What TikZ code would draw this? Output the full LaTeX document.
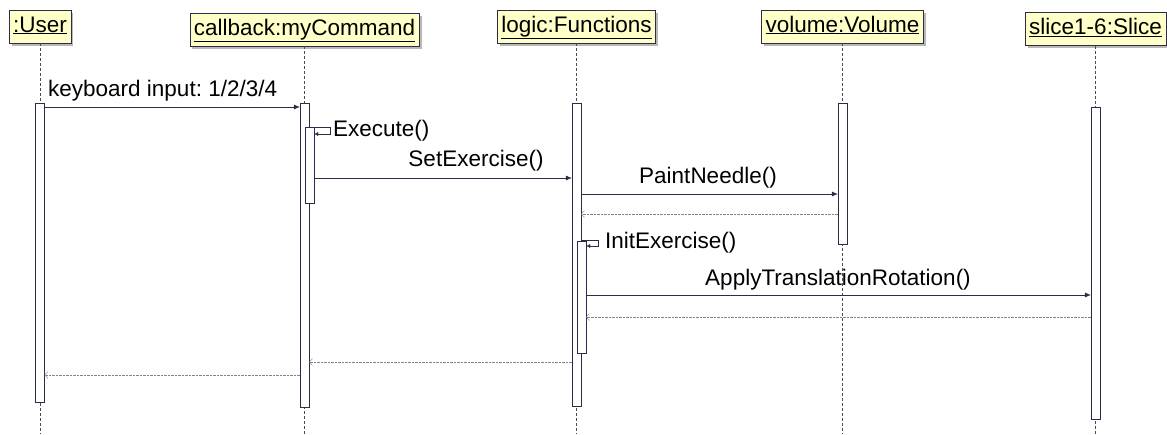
\documentclass[tikz,border=0pt]{standalone}
\usepackage{fontspec}
\setmainfont{Liberation Sans}
\usetikzlibrary{arrows.meta,shadows}
\definecolor{objfill}{RGB}{255,255,200}
\definecolor{umlline}{RGB}{44,44,70}
\definecolor{retline}{RGB}{130,130,140}
\frenchspacing
\begin{document}
\begin{tikzpicture}[
        x=1pt, y=-1pt,
        font=\fontsize{22.5}{26}\selectfont,
        % 对象框（带阴影）
        obj/.style={draw=umlline, fill=objfill, inner xsep=4pt, inner ysep=0pt,
            text height=17pt, text depth=6pt, minimum height=33pt,
            drop shadow={shadow xshift=2.5pt, shadow yshift=-2.5pt, fill=gray!55, opacity=1}},
        life/.style={draw=gray!60!black, dash pattern=on 3pt off 2pt},
        act/.style={draw=umlline, fill=white, minimum width=9pt, inner sep=0pt, anchor=north},
        msg/.style={draw=umlline, -{Latex[length=6pt,width=5pt]}},
        ret/.style={draw=retline, densely dotted, -{Straight Barb[length=3pt,width=7pt]}},
        lbl/.style={inner sep=1pt, text=black},
    ]

    \useasboundingbox (0,0) rectangle (1167,434);

    % 生命线横坐标
    \def\xU{40}
    \def\xC{304.5}
    \def\xF{576.5}
    \def\xV{842.5}
    \def\xS{1095.5}

    % ---- 对象 ----
    \node[obj] (user) at (\xU,26.5) {\underline{:User}};
    \node[obj] (cmd) at (\xC,29.5) {\underline{callback:myCommand}};
    \node[obj] (logic) at (\xF,26.5) {\underline{logic:Functions}};
    \node[obj] (vol) at (\xV,26.5) {\underline{volume:Volume}};
    \node[obj] (slice) at (\xS,29) {\underline{slice1-6:Slice}};

    % ---- 生命线 ----
    \draw[life] (user.south) -- (\xU,434);
    \draw[life] (cmd.south) -- (\xC,434);
    \draw[life] (logic.south) -- (\xF,434);
    \draw[life] (vol.south) -- (\xV,434);
    \draw[life] (slice.south) -- (\xS,434);

    % ---- 激活框 ----
    \node[act, minimum height=299pt] (aU) at (\xU,103) {};
    \node[act, minimum height=304pt] (aC) at (\xC,103) {};
    \node[act, minimum height=76pt] (aC2) at (\xC+5,127) {};
    \node[act, minimum height=303pt] (aF) at (\xF,103) {};
    \node[act, minimum height=112pt] (aF2) at (\xF+5,241) {};
    \node[act, minimum height=141pt] (aV) at (\xV,103) {};
    \node[act, minimum height=312pt] (aS) at (\xS,107) {};

    % ---- 消息 ----
    \draw[msg] (aU.east |- 0,107) -- (aC.west |- 0,107);
    \node[lbl, anchor=base west] (kb) at (47,96) {keyboard input: 1/2/3/4};

    \coordinate (ex) at (330,127);
    \draw[draw=umlline, -{Latex[length=4pt,width=4pt]}] (aC.east |- ex) -- (ex) -- ++(0,7) -- (aC2.east |- 0,134);
    \node[lbl, anchor=west] (exl) at (332,131) {Execute()};

    \draw[msg] (aC2.east |- 0,178) -- (aF.west |- 0,178);
    \node[lbl] (set) at (476,161) {SetExercise()};

    \draw[msg] (aF.east |- 0,194) -- (aV.west |- 0,194);
    \node[lbl] (pn) at (708,178) {PaintNeedle()};
    \draw[ret] (aV.west |- 0,214) -- (aF.east |- 0,214);

    \coordinate (ie) at (598,240);
    \draw[draw=umlline, -{Latex[length=4pt,width=4pt]}] (aF.east |- ie) -- (ie) -- ++(0,6) -- (aF2.east |- 0,246);
    \node[lbl, anchor=west] (iel) at (604,243) {InitExercise()};

    \draw[msg] (aF2.east |- 0,295) -- (aS.west |- 0,295);
    \node[lbl] (atr) at (838,280) {ApplyTranslationRotation()};
    \draw[ret] (aS.west |- 0,317) -- (aF2.east |- 0,317);

    \draw[ret] (aF.west |- 0,362) -- (aC.east |- 0,362);
    \draw[ret] (aC.west |- 0,375) -- (aU.east |- 0,375);

\end{tikzpicture}
\end{document}
